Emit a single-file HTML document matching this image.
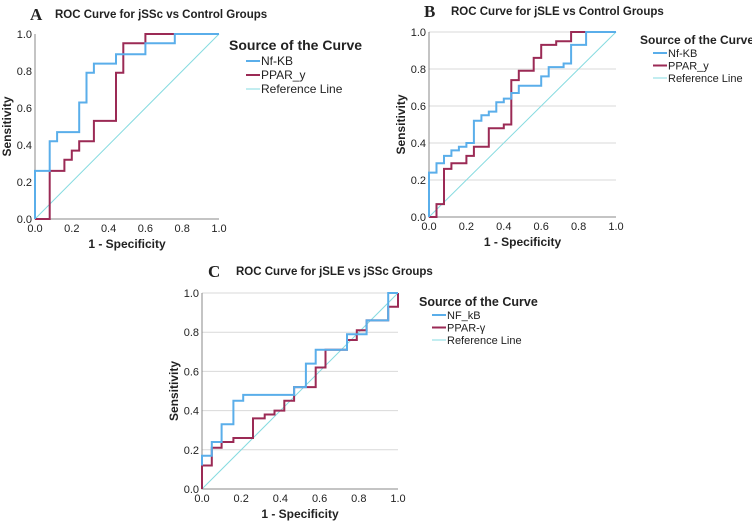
<!DOCTYPE html>
<html><head><meta charset="utf-8"><style>
body{margin:0;background:#fff;width:752px;height:525px;overflow:hidden}
svg text{font-family:"Liberation Sans","DejaVu Sans",sans-serif;fill:#222}
</style></head><body>
<svg id="s" width="752" height="525" xmlns="http://www.w3.org/2000/svg"></svg>
<script>
const ticks=[0,0.2,0.4,0.6,0.8,1.0];
const tickLabels=["0.0","0.2","0.4","0.6","0.8","1.0"];
const aNfX=[0,0,0.08,0.08,0.12,0.12,0.24,0.24,0.28,0.28,0.32,0.32,0.44,0.44,0.6,0.6,0.76,0.76,1];
const aNfY=[0,0.26,0.26,0.42,0.42,0.47,0.47,0.63,0.63,0.79,0.79,0.84,0.84,0.89,0.89,0.95,0.95,1,1];
const aPpX=[0,0.08,0.08,0.16,0.16,0.2,0.2,0.24,0.24,0.32,0.32,0.44,0.44,0.48,0.48,0.6,0.6,1];
const aPpY=[0,0,0.26,0.26,0.32,0.32,0.37,0.37,0.42,0.42,0.53,0.53,0.79,0.79,0.95,0.95,1,1];
const bNfX=[0,0,0.04,0.04,0.08,0.08,0.12,0.12,0.16,0.16,0.2,0.2,0.24,0.24,0.28,0.28,0.32,0.32,0.36,0.36,0.4,0.4,0.44,0.44,0.48,0.48,0.6,0.6,0.64,0.64,0.72,0.72,0.76,0.76,0.84,0.84,1];
const bNfY=[0,0.24,0.24,0.29,0.29,0.33,0.33,0.36,0.36,0.38,0.38,0.4,0.4,0.52,0.52,0.55,0.55,0.57,0.57,0.62,0.62,0.64,0.64,0.67,0.67,0.71,0.71,0.76,0.76,0.81,0.81,0.83,0.83,0.93,0.93,1,1];
const bPpX=[0,0.04,0.04,0.08,0.08,0.12,0.12,0.2,0.2,0.24,0.24,0.32,0.32,0.4,0.4,0.44,0.44,0.48,0.48,0.56,0.56,0.6,0.6,0.68,0.68,0.76,0.76,1];
const bPpY=[0,0,0.07,0.07,0.26,0.26,0.29,0.29,0.33,0.33,0.38,0.38,0.48,0.48,0.5,0.5,0.74,0.74,0.79,0.79,0.86,0.86,0.93,0.93,0.95,0.95,1,1];
const cNfX=[0,0,0.05,0.05,0.1,0.1,0.16,0.16,0.21,0.21,0.47,0.47,0.53,0.53,0.58,0.58,0.74,0.74,0.84,0.84,0.95,0.95,1];
const cNfY=[0.12,0.17,0.17,0.24,0.24,0.33,0.33,0.45,0.45,0.48,0.48,0.52,0.52,0.64,0.64,0.71,0.71,0.79,0.79,0.86,0.86,1,1];
const cPpX=[0,0,0.05,0.05,0.1,0.1,0.16,0.16,0.26,0.26,0.32,0.32,0.37,0.37,0.42,0.42,0.47,0.47,0.58,0.58,0.63,0.63,0.74,0.74,0.79,0.79,0.84,0.84,0.95,0.95,1,1];
const cPpY=[0,0.12,0.12,0.21,0.21,0.24,0.24,0.26,0.26,0.36,0.36,0.38,0.38,0.4,0.4,0.45,0.45,0.52,0.52,0.62,0.62,0.71,0.71,0.76,0.76,0.81,0.81,0.86,0.86,0.93,0.93,1];
const BLUE="#5aaeea",RED="#9b2a55",REF="#86dbe0";
const svg=document.getElementById('s');const NS="http://www.w3.org/2000/svg";
function mk(t,a,txt,p){const e=document.createElementNS(NS,t);for(const k in a)e.setAttribute(k,a[k]);if(txt!=null)e.textContent=txt;(p||svg).appendChild(e);return e;}
const panels=[
 {id:'a',L:'A',title:'ROC Curve for jSSc vs Control Groups',x0:35,x1:219,y0:219,y1:34,grid:false,lx:229,ly:50,lts:14,les:12,names:['Nf-KB','PPAR_y'],nf:[aNfX,aNfY],pp:[aPpX,aPpY],letX:30,letY:20,tX:55},
 {id:'b',L:'B',title:'ROC Curve for jSLE vs Control Groups',x0:429,x1:616,y0:217,y1:32,grid:true,lx:640,ly:44,lts:12,les:11,names:['Nf-KB','PPAR_y'],nf:[bNfX,bNfY],pp:[bPpX,bPpY],letX:424,letY:17,tX:451},
 {id:'c',L:'C',title:'ROC Curve for jSLE vs jSSc Groups',x0:202,x1:398,y0:489,y1:293,grid:true,lx:419,ly:306,lts:12.5,les:11,names:['NF_kB','PPAR-γ'],nf:[cNfX,cNfY],pp:[cPpX,cPpY],letX:208,letY:277,tX:236}
];
panels.forEach(P=>{
 const g=mk('g',{});
 
 
 const sx=v=>P.x0+v*(P.x1-P.x0), sy=v=>P.y0+v*(P.y1-P.y0);
 const lt=mk('text',{x:P.letX,y:P.letY,'font-size':17,'font-weight':'bold',style:'font-family:"Liberation Serif",serif'},P.L,g);
 
 const tt=mk('text',{x:P.tX,y:P.letY-2,'font-size':11.5,'font-weight':'bold'},P.title,g);
 
 ticks.forEach((t,i)=>{
  if(P.grid&&i>0){const gl=mk('line',{x1:sx(0),x2:sx(1),y1:sy(t),y2:sy(t),stroke:'#d9d9d9','stroke-width':1},null,g);}
  const yl=mk('text',{x:sx(0)-3,y:sy(t)+4,'font-size':11,'text-anchor':'end'},tickLabels[i],g);
  
  const xl=mk('text',{x:sx(t),y:P.y0+13,'font-size':11,'text-anchor':'middle'},tickLabels[i],g);
  
 });
 const ax=mk('path',{d:`M${sx(0)},${sy(1)}V${sy(0)}H${sx(1)}`,fill:'none',stroke:'#888','stroke-width':1},null,g);
 
 const xt=mk('text',{x:(P.x0+P.x1)/2,y:P.y0+29,'font-size':12,'font-weight':'bold','text-anchor':'middle'},'1 - Specificity',g);
 
 const cy=(P.y0+P.y1)/2, cx=P.x0-24;
 const yt=mk('text',{x:cx,y:cy,'font-size':12,'font-weight':'bold','text-anchor':'middle',transform:`rotate(-90 ${cx} ${cy})`},'Sensitivity',g);
 
 const rl=mk('line',{x1:sx(0),y1:sy(0),x2:sx(1),y2:sy(1),stroke:REF,'stroke-width':1},null,g);
 
 const path=(X,Y)=>X.map((x,i)=>(i?'L':'M')+sx(x).toFixed(1)+','+sy(Y[i]).toFixed(1)).join('');
 const pr=mk('path',{d:path(P.pp[0],P.pp[1]),fill:'none',stroke:RED,'stroke-width':2},null,g);
 
 const pb=mk('path',{d:path(P.nf[0],P.nf[1]),fill:'none',stroke:BLUE,'stroke-width':2},null,g);
 
 const lg=mk('g',{},null,g);
 
 mk('text',{x:P.lx,y:P.ly,'font-size':P.lts,'font-weight':'bold'},'Source of the Curve',lg);
 const lx=P.lx+(P.id==='a'?17:13), st=P.id==='a'?14:12.5, y0=P.ly+(P.id==='a'?11:9);
 [[P.names[0],BLUE,2],[P.names[1],RED,2],['Reference Line',REF,1]].forEach((e,i)=>{
  const y=y0+i*st;
  const en=mk('g',{},null,lg);
  
  mk('line',{x1:lx,x2:lx+14,y1:y,y2:y,stroke:e[1],'stroke-width':e[2]},null,en);
  mk('text',{x:lx+15,y:y+4,'font-size':P.les},e[0],en);
 });
});
</script>
</body></html>
